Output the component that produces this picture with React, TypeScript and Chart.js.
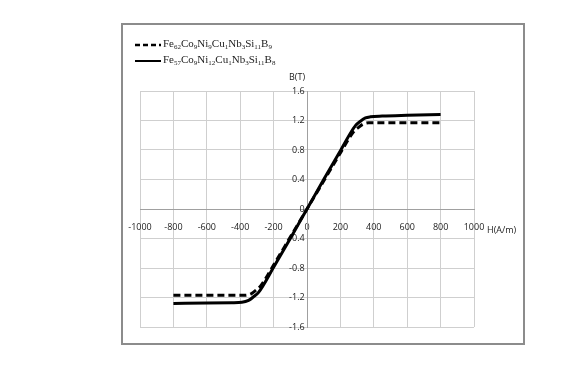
import React, { useEffect, useRef } from "react";
import { Chart, registerables } from "chart.js";

Chart.register(...registerables);

// Fe57Co9Ni12Cu1Nb3Si11B8 (solid)
const hSolid = [-800, -600, -450, -390, -350, -320, -290, -200, -100, 0, 100, 200, 290, 320, 350, 380, 450, 600, 800];
const bSolid = [-1.28, -1.275, -1.27, -1.265, -1.24, -1.19, -1.13, -0.79, -0.4, 0, 0.4, 0.79, 1.13, 1.19, 1.235, 1.25, 1.26, 1.27, 1.28];

// Fe62Co9Ni9Cu1Nb3Si11B9 (dashed)
const hDashed = [-800, -600, -370, -335, -305, -280, -200, -100, 0, 100, 200, 280, 305, 335, 370, 600, 800];
const bDashed = [-1.17, -1.17, -1.17, -1.15, -1.1, -1.05, -0.76, -0.38, 0, 0.38, 0.76, 1.05, 1.1, 1.15, 1.17, 1.17, 1.17];

const xTickValues = [-1000, -800, -600, -400, -200, 0, 200, 400, 600, 800, 1000];
const yTickValues = [-1.6, -1.2, -0.8, -0.4, 0, 0.4, 0.8, 1.2, 1.6];

const xTitle = "H(A/m)";
const yTitle = "B(T)";

const tickFont = { family: "'Open Sans', sans-serif", size: 9 };

const titlePlugin = {
  id: "axisTitles",
  afterDraw(chart: any) {
    const ctx = chart.ctx;
    const xs = chart.scales.x;
    const ys = chart.scales.y;
    ctx.save();
    ctx.fillStyle = "#222";
    ctx.font = "9px 'Open Sans', sans-serif";
    ctx.textBaseline = "middle";
    ctx.textAlign = "left";
    ctx.fillText(xTitle, xs.getPixelForValue(1000) + 13, ys.getPixelForValue(0) + 21);
    ctx.textAlign = "center";
    ctx.fillText(yTitle, xs.getPixelForValue(0) - 10, ys.getPixelForValue(1.6) - 14);
    ctx.restore();
  },
};

function Formula({ parts }: { parts: [string, string][] }) {
  return (
    <span>
      {parts.map(([el, n], i) => (
        <span key={i}>
          {el}
          <sub style={{ fontSize: "7px", verticalAlign: "-2px" }}>{n}</sub>
        </span>
      ))}
    </span>
  );
}

export default function App() {
  const ref = useRef<HTMLCanvasElement | null>(null);
  useEffect(() => {
    if (!ref.current) return;
    const chart = new Chart(ref.current, {
      type: "line",
      data: {
        datasets: [
          {
            label: "Fe62Co9Ni9Cu1Nb3Si11B9",
            data: hDashed.map((h, i) => ({ x: h, y: bDashed[i] })),
            borderColor: "#000",
            borderWidth: 3,
            borderDash: [7, 4],
            pointRadius: 0,
            cubicInterpolationMode: "monotone",
            fill: false,
          },
          {
            label: "Fe57Co9Ni12Cu1Nb3Si11B8",
            data: hSolid.map((h, i) => ({ x: h, y: bSolid[i] })),
            borderColor: "#000",
            borderWidth: 3,
            pointRadius: 0,
            cubicInterpolationMode: "monotone",
            fill: false,
          },
        ],
      },
      options: {
        animation: false,
        responsive: false,
        maintainAspectRatio: false,
        layout: { padding: { left: 140, right: 103, top: 91, bottom: 50 } },
        plugins: { legend: { display: false }, tooltip: { enabled: false } },
        scales: {
          x: {
            type: "linear",
            position: { y: 0 } as any,
            min: -1000,
            max: 1000,
            afterBuildTicks: (s: any) => {
              s.ticks = xTickValues.map((v) => ({ value: v }));
            },
            ticks: { font: tickFont, color: "#222", padding: 9, maxRotation: 0, autoSkip: false, callback: (v: any) => String(v) },
            grid: { color: "#cfcfcf", lineWidth: 1, tickLength: 4 },
            border: { color: "#a0a0a0", width: 1 },
          },
          y: {
            type: "linear",
            position: { x: 0 } as any,
            min: -1.6,
            max: 1.6,
            afterBuildTicks: (s: any) => {
              s.ticks = yTickValues.map((v) => ({ value: v }));
            },
            ticks: {
              font: tickFont,
              color: "#222",
              padding: 2,
              autoSkip: false,
              callback: (v: any) => (Math.abs(v) < 1e-9 ? "0" : Number(v).toFixed(1)) + " ",
            },
            grid: { color: "#cfcfcf", lineWidth: 1, tickLength: 4 },
            border: { color: "#a0a0a0", width: 1 },
          },
        },
      },
      plugins: [titlePlugin],
    } as any);
    return () => chart.destroy();
  }, []);

  const legendText: React.CSSProperties = {
    fontFamily: "'Liberation Serif', 'Times New Roman', serif",
    fontSize: "11px",
    color: "#222",
    whiteSpace: "nowrap",
    lineHeight: "14px",
  };

  return (
    <div style={{ position: "fixed", left: 0, top: 0, width: 577, height: 377, background: "#fff" }}>
      <canvas ref={ref} width={577} height={377} style={{ position: "absolute", left: 0, top: 0 }} />
      <div
        style={{
          position: "absolute",
          left: 121,
          top: 23,
          width: 400,
          height: 318,
          border: "2px solid #8c8c8c",
          pointerEvents: "none",
        }}
      />
      <div style={{ position: "absolute", left: 134, top: 37, ...legendText }}>
        <div style={{ display: "flex", alignItems: "center", height: 16 }}>
          <svg width="28" height="6" style={{ marginRight: 1 }}>
            <line x1="1" y1="3" x2="27" y2="3" stroke="#000" strokeWidth="2.5" strokeDasharray="5 3" />
          </svg>
          <Formula parts={[["Fe", "62"], ["Co", "9"], ["Ni", "9"], ["Cu", "1"], ["Nb", "3"], ["Si", "11"], ["B", "9"]]} />
        </div>
        <div style={{ display: "flex", alignItems: "center", height: 16 }}>
          <svg width="28" height="6" style={{ marginRight: 1 }}>
            <line x1="1" y1="3" x2="27" y2="3" stroke="#000" strokeWidth="2" />
          </svg>
          <Formula parts={[["Fe", "57"], ["Co", "9"], ["Ni", "12"], ["Cu", "1"], ["Nb", "3"], ["Si", "11"], ["B", "8"]]} />
        </div>
      </div>
    </div>
  );
}
